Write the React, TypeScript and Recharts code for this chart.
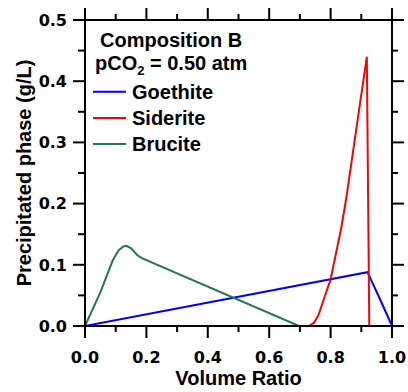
import React from 'react';
import { LineChart, Line, XAxis, YAxis, Legend, ReferenceLine } from 'recharts';

const xTicks = [0, 0.1, 0.2, 0.3, 0.4, 0.5, 0.6, 0.7, 0.8, 0.9, 1.0];
const yTicks = [0, 0.05, 0.1, 0.15, 0.2, 0.25, 0.3, 0.35, 0.4, 0.45, 0.5];

const goethiteX = [0, 0.92, 0.96, 1.0];
const goethiteY = [0, 0.088, 0.045, 0];

const sideriteX = [0, 0.73, 0.745, 0.76, 0.78, 0.8, 0.811, 0.834, 0.852, 0.918, 0.926, 1.0];
const sideriteY = [0, 0, 0.005, 0.017, 0.047, 0.076, 0.103, 0.158, 0.212, 0.44, 0, 0];

const bruciteX = [0, 0.05, 0.09, 0.11, 0.125, 0.135, 0.15, 0.17, 0.185, 0.697, 1.0];
const bruciteY = [0, 0.055, 0.107, 0.124, 0.13, 0.131, 0.127, 0.116, 0.111, 0, 0];

const seriesNames = ['Goethite', 'Siderite', 'Brucite'];
const seriesColors = ['#0000ff', '#ff0000', '#22784a'];
const legendTitle = 'Composition B';

const toData = (xs: number[], ys: number[]) => xs.map((x, i) => ({ x, y: ys[i] }));
const seriesData = [toData(goethiteX, goethiteY), toData(sideriteX, sideriteY), toData(bruciteX, bruciteY)];

const W = 408;
const H = 392;
const LEFT = 85;
const RIGHT = 16;
const TOP = 20;
const BOTTOM = 66;
const X_MAX = 1;
const Y_MAX = 0.5;
const PLOT_W = W - LEFT - RIGHT;
const PLOT_H = H - TOP - BOTTOM;

const tickFont = { fontFamily: '"DejaVu Sans", sans-serif', fontWeight: 'bold' as const, fontSize: 16 };
const titleFont = { fontFamily: '"Liberation Sans", Arial, sans-serif', fontWeight: 'bold' as const, fontSize: 20 };

const isMajorX = (v: number) => Math.round(v * 10) % 2 === 0;
const isMajorY = (v: number) => Math.round(v * 100) % 10 === 0;

// axis frame helpers (decoration only; data marks go through Recharts scales)
const fx = (v: number) => LEFT + (v / X_MAX) * PLOT_W;
const fy = (v: number) => TOP + (1 - v / Y_MAX) * PLOT_H;

const BottomTick = (p: any) => {
  const x = Number(p.x);
  const y = Number(p.y);
  const v = p.payload.value;
  const major = isMajorX(v);
  if (!major) return <g />;
  return (
    <text x={x} y={y + 36.5} textAnchor="middle" fill="#000" {...tickFont}>
      {v.toFixed(1)}
    </text>
  );
};

const LeftTick = (p: any) => {
  const x = Number(p.x);
  const y = Number(p.y);
  const v = p.payload.value;
  if (!isMajorY(v)) return <g />;
  return (
    <text x={x - 18} y={y} dy="0.36em" textAnchor="end" fill="#000" {...tickFont}>
      {v.toFixed(1)}
    </text>
  );
};

const OverlayContent = () => (
  <svg width={W} height={H} style={{ position: 'absolute', left: 0, top: 0, pointerEvents: 'none' }}>
    <g stroke="#000" strokeWidth={2} fill="none">
      <line x1={fx(0)} x2={fx(X_MAX)} y1={fy(Y_MAX)} y2={fy(Y_MAX)} />
      <line x1={fx(X_MAX)} x2={fx(X_MAX)} y1={fy(Y_MAX)} y2={fy(0)} />
      <line x1={fx(0)} x2={fx(0)} y1={fy(Y_MAX)} y2={fy(0)} />
      <line x1={fx(0)} x2={fx(X_MAX)} y1={fy(0)} y2={fy(0)} />
      {xTicks.map((v) => {
        const len = isMajorX(v) ? 12 : 6;
        return (
          <g key={`x${v}`}>
            <line x1={fx(v)} x2={fx(v)} y1={fy(0)} y2={fy(0) + len} />
            <line x1={fx(v)} x2={fx(v)} y1={fy(Y_MAX)} y2={fy(Y_MAX) - len} />
          </g>
        );
      })}
      {yTicks.map((v) => {
        const len = isMajorY(v) ? 12 : 7;
        return (
          <g key={`y${v}`}>
            <line x1={fx(0)} x2={fx(0) - len} y1={fy(v)} y2={fy(v)} />
            <line x1={fx(X_MAX)} x2={fx(X_MAX) + (isMajorY(v) ? 12 : 6)} y1={fy(v)} y2={fy(v)} />
          </g>
        );
      })}
    </g>
    <text x={100} y={47} fill="#000" {...titleFont}>{legendTitle}</text>
    <text x={95} y={69.7} fill="#000" {...titleFont}>
      pCO<tspan fontSize={13} dy={5}>2</tspan>
      <tspan dy={-5}> = 0.50 atm</tspan>
    </text>
    {seriesNames.map((name, i) => {
      const cy = 91.7 + i * 26.2;
      return (
        <g key={name}>
          <line x1={93} x2={126} y1={cy} y2={cy} stroke={seriesColors[i]} strokeWidth={2} />
          <text x={132} y={cy + 6.8} fill="#000" {...titleFont}>{name}</text>
        </g>
      );
    })}
  </svg>
);

export default function App() {
  return (
    <div style={{ position: 'absolute', left: 0, top: 0, width: W, height: H }}>
      <LineChart width={W} height={H} margin={{ top: TOP, right: RIGHT, bottom: 0, left: 0 }}>
        <XAxis
          dataKey="x"
          type="number"
          domain={[0, X_MAX]}
          allowDataOverflow
          ticks={xTicks}
          interval={0}
          height={BOTTOM}
          tickSize={0}
          tickMargin={0}
          tickLine={false}
          axisLine={{ stroke: '#000', strokeWidth: 2 }}
          tick={<BottomTick />}
          label={{
            content: () => (
              <text x={LEFT + PLOT_W / 2} y={385} textAnchor="middle" fill="#000" {...titleFont}>
                Volume Ratio
              </text>
            ),
          }}
        />
        <YAxis
          type="number"
          domain={[0, Y_MAX]}
          allowDataOverflow
          ticks={yTicks}
          interval={0}
          width={LEFT}
          tickSize={0}
          tickMargin={0}
          tickLine={false}
          axisLine={{ stroke: '#000', strokeWidth: 2 }}
          tick={<LeftTick />}
          label={{
            content: () => (
              <text
                x={24}
                y={TOP + PLOT_H / 2}
                transform={`rotate(-90 24 ${TOP + PLOT_H / 2})`}
                textAnchor="middle"
                dominantBaseline="central"
                fill="#000"
                {...titleFont}
              >
                Precipitated phase (g/L)
              </text>
            ),
          }}
        />
        <ReferenceLine y={Y_MAX} stroke="#000" strokeWidth={2} />
        <ReferenceLine x={X_MAX} stroke="#000" strokeWidth={2} />
        {seriesNames.map((name, i) => (
          <Line
            key={name}
            name={name}
            data={seriesData[i]}
            dataKey="y"
            type="linear"
            stroke={seriesColors[i]}
            strokeWidth={2}
            dot={false}
            isAnimationActive={false}
          />
        ))}
        <Legend
          layout="vertical"
          align="center"
          verticalAlign="middle"
          content={<OverlayContent />}
          wrapperStyle={{ position: 'absolute', left: 0, top: 0, width: W, height: H, pointerEvents: 'none' }}
        />
      </LineChart>
    </div>
  );
}
